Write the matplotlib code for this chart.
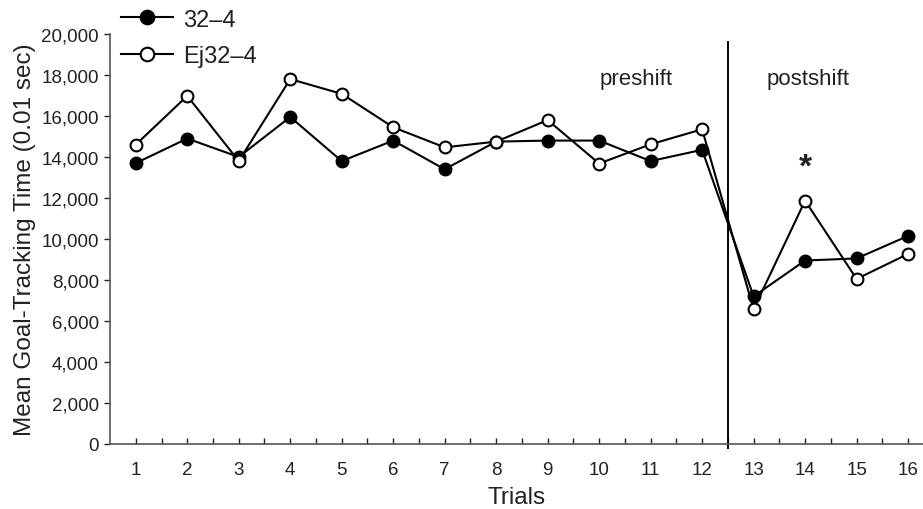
import matplotlib
matplotlib.use("Agg")
import matplotlib.pyplot as plt
from matplotlib.ticker import FixedLocator, FuncFormatter

plt.rcParams['font.family'] = ['Liberation Sans', 'DejaVu Sans']

trials = list(range(1, 17))
tick_labels = [str(t) for t in trials]
series_32_4 = [13700, 14900, 14000, 15950, 13800, 14800, 13400, 14750,
               14800, 14800, 13800, 14350, 7200, 8950, 9050, 10150]
series_ej32_4 = [14600, 16980, 13800, 17800, 17080, 15450, 14470, 14750,
                 15800, 13680, 14620, 15350, 6570, 11870, 8050, 9270]
labels = ["32\u20134", "Ej32\u20134"]
y_ticks = list(range(0, 20001, 2000))

fig = plt.figure(figsize=(9.23, 5.10), dpi=100)
ax = fig.add_axes([0.1192, 0.1275, 0.8808, 0.8039])

ax.plot(trials, series_32_4, '-o', color='black', lw=1.5, ms=8.5,
        mfc='black', mec='black', mew=1.5, label=labels[0], zorder=3)
ax.plot(trials, series_ej32_4, '-o', color='black', lw=1.5, ms=8.5,
        mfc='white', mec='black', mew=1.5, label=labels[1], zorder=4)

ax.set_xlim(0.5, 16.29)
ax.set_ylim(0, 20000)

ax.set_xticks(trials)
ax.set_xticklabels(tick_labels)
ax.xaxis.set_minor_locator(FixedLocator([t + 0.5 for t in trials]))
ax.tick_params(axis='x', which='both', direction='in', length=4, width=1,
               labelsize=13.5, pad=12, colors='#222222')
ax.set_yticks(y_ticks)
ax.yaxis.set_major_formatter(FuncFormatter(lambda v, p: f"{int(v):,}"))
ax.tick_params(axis='y', direction='out', length=4, width=1,
               labelsize=13.5, pad=4, colors='#222222')

for s in ['top', 'right']:
    ax.spines[s].set_visible(False)
for s in ['left', 'bottom']:
    ax.spines[s].set_color('#555555')
    ax.spines[s].set_linewidth(1.2)

ax.set_xlabel("Trials", fontsize=17.5, labelpad=6, color='#222222')
ax.set_ylabel("Mean Goal-Tracking Time (0.01 sec)", fontsize=17.5,
              labelpad=4, color='#222222')

ax.axvline(12.5, ymin=-0.01, ymax=0.98, color='black', lw=1.4,
           clip_on=False, zorder=2)

ax.text(10.72, 17850, "preshift", fontsize=16, ha='center', va='center',
        color='#222222')
ax.text(14.06, 17850, "postshift", fontsize=16, ha='center', va='center',
        color='#222222')
ax.text(14.0, 13500, "*", fontsize=24, fontweight='bold', ha='center',
        va='center', color='#222222')

leg = ax.legend(loc='upper left', bbox_to_anchor=(0.131, 0.981),
                bbox_transform=fig.transFigure, frameon=False,
                fontsize=17, handlelength=2.2, handletextpad=0.45,
                labelspacing=0.6, borderpad=0, borderaxespad=0,
                markerscale=1.15)
for t in leg.get_texts():
    t.set_color('#222222')

fig.savefig("out.png", dpi=100)
